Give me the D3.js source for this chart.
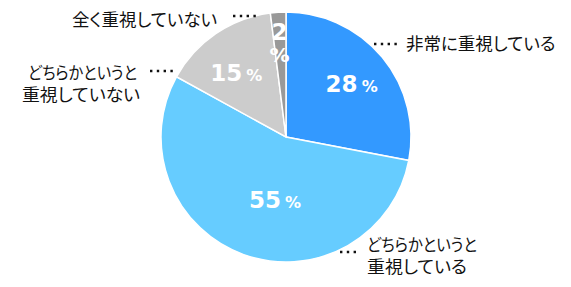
<!DOCTYPE html>
<html lang="ja">
<head>
<meta charset="UTF-8">
<title>pie</title>
<script src="https://cdn.jsdelivr.net/npm/d3@7/dist/d3.min.js"></script>
<style>
  body { margin: 0; background: #fff; }
  .lbl { font-family: "Noto Sans CJK JP", sans-serif; font-size: 17.5px; fill: #111; font-feature-settings: "palt"; }
  .lbl2 { font-size: 16.5px; }
  .pct { font-family: "DejaVu Sans", Verdana, sans-serif; font-weight: bold; fill: #fff; }
</style>
</head>
<body>
<svg width="571" height="287"></svg>
<script>
// データ
var categories = ["非常に重視している", "どちらかというと重視している", "どちらかというと重視していない", "全く重視していない"];
var values = [28, 55, 15, 2];
var colors = ["#3399FF", "#66CCFF", "#CCCCCC", "#999999"];

var svg = d3.select("svg");
var cx = 286, cy = 137, r = 125;
var g = svg.append("g").attr("transform", "translate(" + cx + "," + cy + ")");

var pie = d3.pie().sort(null).value(function(d){ return d; });
var arcs = pie(values);
var arc = d3.arc().innerRadius(0).outerRadius(r);

g.selectAll("path")
    .data(arcs)
    .enter()
    .append("path")
    .attr("d", arc)
    .attr("fill", function(d, i){ return colors[i]; })
    .attr("stroke", "#fff")
    .attr("stroke-width", 1.5);

// パーセント表示 (中心からの距離と微調整)
var pctR = [80, 80, 78, 104];
var pctOff = [[4, -2], [16, -12], [-6, 0], [0, 0]];
arcs.forEach(function(d, i){
    var a = (d.startAngle + d.endAngle) / 2;
    var x = Math.sin(a) * pctR[i] + pctOff[i][0];
    var y = -Math.cos(a) * pctR[i] + pctOff[i][1];
    var t = g.append("text").attr("class", "pct").attr("text-anchor", "middle");
    if (values[i] < 5) {
        t.append("tspan").attr("x", x).attr("y", y + 7).style("font-size", "23px").text(values[i]);
        t.append("tspan").attr("x", x).attr("y", y + 29).style("font-size", "20px").text("%");
    } else {
        t.attr("x", x).attr("y", y + 8);
        t.append("tspan").style("font-size", "23px").text(values[i]);
        t.append("tspan").attr("dx", 4).style("font-size", "16px").text("%");
    }
});

// 外側ラベル  (行ごと: [文字, x, 幅])
var labels = [
    {lines: [["非常に重視している", 406, 0]], y: 50, dots: [374, 400, 44]},
    {lines: [["どちらかというと", 367, 110], ["重視している", 367, 100]], y: 251, dots: [340, 360, 252]},
    {lines: [["どちらかというと", 28, 109], ["重視していない", 22, 118]], y: 79, dots: [150, 174, 71]},
    {lines: [["全く重視していない", 72, 0]], y: 26, dots: [233, 258, 16]}
];
labels.forEach(function(l){
    l.lines.forEach(function(s, j){
        var t = svg.append("text").attr("class", l.lines.length > 1 ? "lbl lbl2" : "lbl")
            .attr("x", s[1]).attr("y", l.y + j * 22).text(s[0]);
        if (s[2]) t.attr("textLength", s[2]).attr("lengthAdjust", "spacingAndGlyphs");
    });
    svg.append("line")
        .attr("x1", l.dots[0]).attr("x2", l.dots[1])
        .attr("y1", l.dots[2]).attr("y2", l.dots[2])
        .attr("stroke", "#111")
        .attr("stroke-width", 2.4)
        .attr("stroke-dasharray", "2.4 4.4");
});
</script>
</body>
</html>
